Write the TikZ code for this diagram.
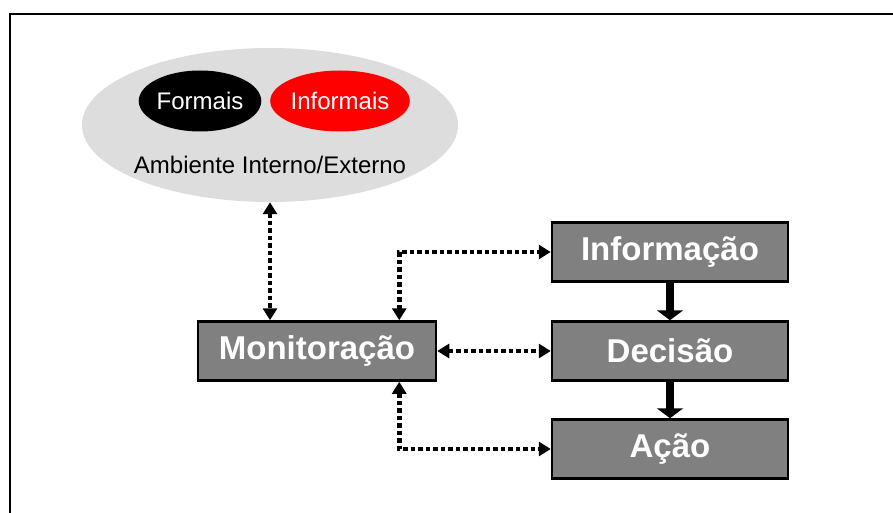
\documentclass[tikz,border=0pt]{standalone}
\usepackage{fontspec}
\setmainfont{Liberation Sans}
\usepackage{xcolor}
\usetikzlibrary{arrows.meta,shapes.geometric}

\definecolor{boxgray}{RGB}{128,128,128}
\definecolor{envgray}{RGB}{221,221,221}

\tikzset{
  stage/.style={draw=black, line width=2.5pt, fill=boxgray, text=white,
    minimum width=236pt, minimum height=59pt, inner sep=0pt,
    font=\fontsize{33}{36}\selectfont\bfseries},
  source/.style={ellipse, text=white, minimum width=118pt, minimum height=61pt,
    inner sep=0pt, font=\fontsize{24}{28}\selectfont},
  link/.style={line width=4.5pt, dash pattern=on 4.5pt off 3pt,
    {Triangle[width=14pt,length=12pt]}-{Triangle[width=14pt,length=12pt]}},
  flow/.style={line width=8pt, -{Triangle[width=26pt,length=10pt]}}
}

\begin{document}
\begin{tikzpicture}[x=1pt, y=-1pt]
    \useasboundingbox (0,0) rectangle (893,513);
    \draw[line width=2.5pt] (10,513) -- (10,14) -- (893,14);

    \node[ellipse, fill=envgray, minimum width=376pt, minimum height=154pt](env) at (270,125) {};
    \node[source, fill=black](formais) at (200,101) {Formais};
    \node[source, fill=red](informais) at (340,101) {Informais};
    \node[font=\fontsize{24}{28}\selectfont](amb) at (270,165) {Ambiente Interno/Externo};

    \node[stage, minimum width=238pt](mon) at (317,351) {Monitoração};
    \node[stage](info) at (670,252) {Informação};
    \node[stage](dec) at (670,351) {Decisão};
    \node[stage](acao) at (670,449) {Ação};

    \draw[link] (env.south) -- (env.south |- mon.north);
    \draw[link] ([xshift=-38pt]mon.north east) |- (info.west);
    \draw[link] (mon.east) -- (dec.west);
    \draw[link] ([xshift=-38pt]mon.south east) |- (acao.west);

    \draw[flow] (info) -- (dec);
    \draw[flow] (dec) -- (acao);
\end{tikzpicture}
\end{document}
